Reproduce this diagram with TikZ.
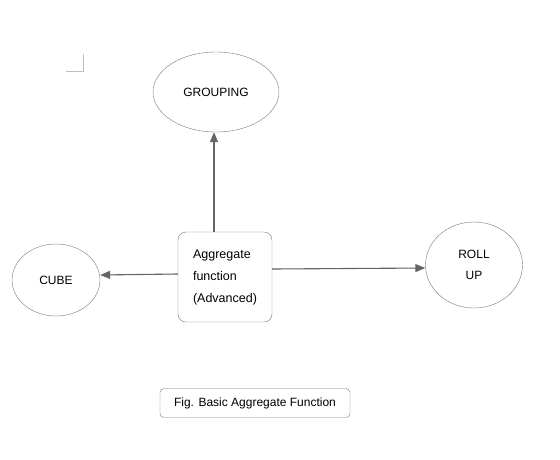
\documentclass[tikz,border=0pt]{standalone}
\usepackage{fontspec}
\setmainfont{Liberation Sans}
\usetikzlibrary{arrows.meta,shapes.geometric}
\definecolor{LineGray}{RGB}{120,120,120}
\definecolor{ArrGray}{RGB}{100,100,100}

\begin{document}
\begin{tikzpicture}[x=1pt, y=-1pt,
            oval/.style={draw=LineGray, ellipse, inner sep=0pt, align=center, font=\fontsize{12}{21}\selectfont},
            fbox/.style={draw=LineGray, rounded corners=8pt, minimum width=94pt, minimum height=90pt, align=left, font=\fontsize{12.5}{22}\selectfont},
            capbox/.style={draw=LineGray, rounded corners=4pt, minimum width=190pt, minimum height=29pt, font=\fontsize{12}{15}\selectfont},
            arr/.style={-{Triangle[length=10pt, width=8pt]}, draw=ArrGray, fill=ArrGray, line width=1.1pt}
        ]
            \useasboundingbox (0,0) rectangle (560,459);
            % corner mark
            \draw[draw=black!25, line width=1pt] (66,71) -- (83,71) -- (83,54);
            \node[oval, minimum width=126pt, minimum height=80pt] (grouping) at (216,92)  {GROUPING};
            \node[oval, minimum width=88pt,  minimum height=72pt] (cube)     at (56,280)  {CUBE};
            \node[oval, minimum width=97pt,  minimum height=86pt] (rollup)   at (474,265) {ROLL\\UP};
            \node[fbox]   (aggfunc) at (225,277) {Aggregate\\function\\(Advanced)};
            \node[capbox] (caption) at (255,403) {Fig. Basic Aggregate Function};
            \draw[arr] (aggfunc.north -| 214,0) -- (grouping.south -| 214,0);
            \draw[arr] (aggfunc.west |- 0,274) -- (cube.east |- 0,275);
            \draw[arr] (aggfunc.east |- 0,269) -- (rollup.west |- 0,268);
        \end{tikzpicture}
\end{document}
